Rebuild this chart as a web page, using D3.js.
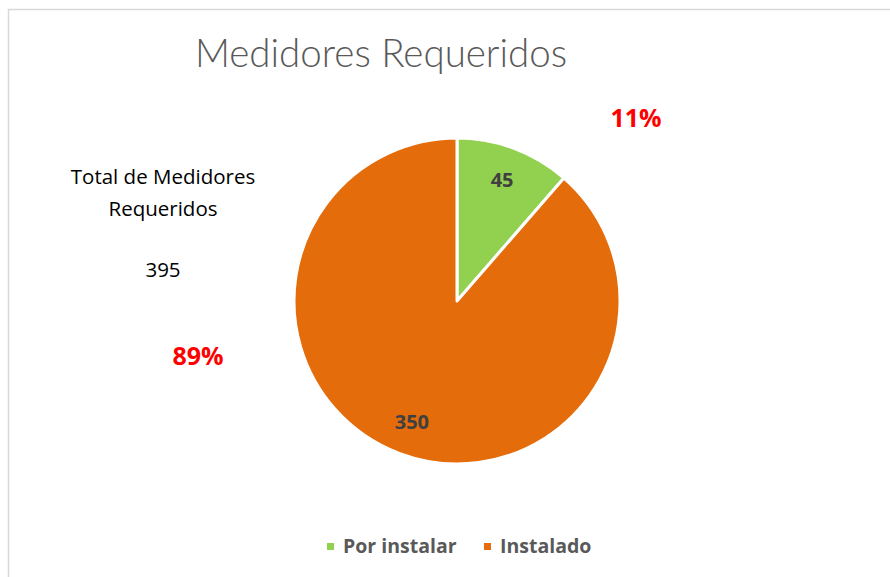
<!DOCTYPE html>
<html>
<head>
<meta charset="utf-8">
<script src="https://cdn.jsdelivr.net/npm/d3@7"></script>
<style>
  body { margin: 0; background: #fff; }
  svg { display: block; }
</style>
</head>
<body>
<div id="root"></div>
<script>
const categories = ['Por instalar', 'Instalado'];
const values = [45, 350];
const colors = ['#92d050', '#e46c0a'];
const percentLabels = ['11%', '89%'];
const totalLabel = ['Total de Medidores', 'Requeridos'];
const title = 'Medidores Requeridos';

const width = 890;
const height = 577;
const cx = 457;
const cy = 301;
const radius = 163;

const total = d3.sum(values);

const svg = d3.select('#root')
    .append('svg')
    .attr('width', width)
    .attr('height', height);

// chart border (only top and left visible in the crop)
svg.append('path')
    .attr('d', `M8.5,${height} L8.5,9.5 L${width},9.5`)
    .attr('fill', 'none')
    .attr('stroke', '#d9d9d9')
    .attr('stroke-width', 1.5);

svg.append('text')
    .attr('x', 381)
    .attr('y', 67)
    .attr('text-anchor', 'middle')
    .attr('fill', '#595959')
    .style('font-family', 'Lato, "Open Sans", sans-serif')
    .style('font-weight', 300)
    .style('font-size', '38.5px')
    .text(title);

const pie = d3.pie().sort(null).value(d => d);
const arcs = pie(values);

const arc = d3.arc().innerRadius(0).outerRadius(radius);
const labelArc = d3.arc().innerRadius(radius * 0.79).outerRadius(radius * 0.79);

const g = svg.append('g').attr('transform', `translate(${cx},${cy})`);

g.selectAll('path')
    .data(arcs)
    .join('path')
    .attr('d', arc)
    .attr('fill', (d, i) => colors[i])
    .attr('stroke', '#fff')
    .attr('stroke-width', 3)
    .attr('stroke-linejoin', 'round');

g.selectAll('text.val')
    .data(arcs)
    .join('text')
    .attr('class', 'val')
    .attr('transform', d => `translate(${labelArc.centroid(d)})`)
    .attr('text-anchor', 'middle')
    .attr('dy', '0.35em')
    .attr('fill', '#404040')
    .style('font-family', '"Open Sans", sans-serif')
    .style('font-weight', 700)
    .style('font-size', '20px')
    .text(d => d.data);

// percentage labels, placed manually like in the original
const pctPos = [[636, 127], [198, 365]];
svg.selectAll('text.pct')
    .data(percentLabels)
    .join('text')
    .attr('class', 'pct')
    .attr('x', (d, i) => pctPos[i][0])
    .attr('y', (d, i) => pctPos[i][1])
    .attr('text-anchor', 'middle')
    .attr('fill', '#ff0000')
    .style('font-family', '"Open Sans", sans-serif')
    .style('font-weight', 700)
    .style('font-size', '25px')
    .text(d => d);

// total text box
const side = svg.append('g')
    .attr('text-anchor', 'middle')
    .attr('fill', '#000')
    .style('font-family', '"Open Sans", sans-serif')
    .style('font-size', '20.5px');

side.selectAll('text.tl')
    .data(totalLabel)
    .join('text')
    .attr('class', 'tl')
    .attr('x', 163)
    .attr('y', (d, i) => 184 + i * 32)
    .text(d => d);

side.append('text')
    .attr('x', 163)
    .attr('y', 277)
    .text(total);

// legend
const legendX = [327, 484];
const legend = svg.selectAll('g.leg')
    .data(categories)
    .join('g')
    .attr('class', 'leg')
    .attr('transform', (d, i) => `translate(${legendX[i]},543)`);

legend.append('rect')
    .attr('width', 7)
    .attr('height', 7)
    .attr('fill', (d, i) => colors[i]);

legend.append('text')
    .attr('x', 16)
    .attr('y', 10)
    .attr('fill', '#595959')
    .style('font-family', '"Open Sans", sans-serif')
    .style('font-weight', 700)
    .style('font-size', '19.5px')
    .text(d => d);
</script>
</body>
</html>
